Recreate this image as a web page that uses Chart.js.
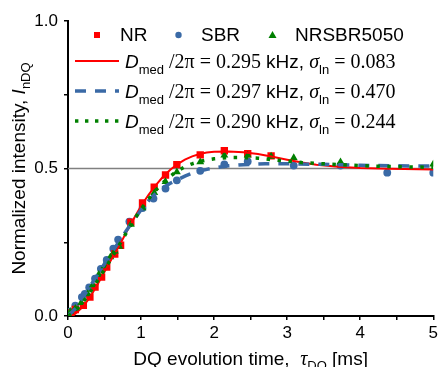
<!DOCTYPE html>
<html><head><meta charset="utf-8">
<script src="https://cdn.jsdelivr.net/npm/chart.js@4"></script>
<style>html,body{margin:0;padding:0;background:#fff;}</style>
</head><body>
<canvas id="c" width="441" height="367"></canvas>
<script>
// ---- data ----
const nrX  = [0.04, 0.10, 0.21, 0.30, 0.37, 0.46, 0.53, 0.64, 0.72, 0.86, 1.02, 1.18, 1.335, 1.49, 1.81, 2.14, 2.46, 2.78];
const nrY  = [0.010, 0.022, 0.036, 0.064, 0.098, 0.132, 0.166, 0.210, 0.240, 0.318, 0.383, 0.437, 0.478, 0.513, 0.546, 0.560, 0.550, 0.543];

const sbrX = [0.03, 0.10, 0.19, 0.23, 0.29, 0.37, 0.45, 0.53, 0.62, 0.686, 0.84, 1.02, 1.17, 1.335, 1.49, 1.81, 2.14, 2.46, 3.09, 3.73, 4.37, 5.0];
const sbrY = [0.015, 0.035, 0.064, 0.075, 0.097, 0.127, 0.160, 0.190, 0.228, 0.259, 0.320, 0.366, 0.398, 0.432, 0.460, 0.492, 0.514, 0.524, 0.510, 0.510, 0.486, 0.486];

const mixX = [0.03, 0.10, 0.18, 0.27, 0.34, 0.42, 0.50, 0.58, 0.64, 0.70, 0.86, 1.02, 1.18, 1.335, 1.49, 1.81, 2.14, 2.46, 2.78, 3.09, 3.73, 5.0];
const mixY = [0.015, 0.025, 0.045, 0.075, 0.105, 0.140, 0.170, 0.200, 0.220, 0.236, 0.310, 0.366, 0.418, 0.455, 0.488, 0.522, 0.545, 0.545, 0.541, 0.536, 0.522, 0.515];

const fitNrX  = [0.05, 0.1, 0.2, 0.3, 0.4, 0.5, 0.6, 0.7, 0.8, 0.9, 1.0, 1.1, 1.2, 1.3, 1.4, 1.5, 1.6, 1.7, 1.8, 1.9, 2.0, 2.2, 2.4, 2.6, 2.8, 3.0, 3.2, 3.4, 3.7, 4.0, 4.4, 5.0];
const fitNrY  = [0.0, 0.008, 0.030, 0.063, 0.105, 0.150, 0.195, 0.237, 0.285, 0.330, 0.373, 0.410, 0.443, 0.472, 0.496, 0.515, 0.530, 0.541, 0.549, 0.554, 0.557, 0.558, 0.555, 0.549, 0.540, 0.530, 0.520, 0.513, 0.506, 0.502, 0.499, 0.497];

const fitSbrX = [0.0, 0.1, 0.2, 0.3, 0.4, 0.5, 0.6, 0.7, 0.8, 0.9, 1.0, 1.1, 1.2, 1.3, 1.4, 1.5, 1.6, 1.7, 1.8, 1.9, 2.0, 2.2, 2.4, 2.7, 3.0, 3.5, 4.0, 4.5, 5.0];
const fitSbrY = [0.0, 0.025, 0.062, 0.100, 0.138, 0.177, 0.215, 0.253, 0.290, 0.325, 0.360, 0.390, 0.415, 0.435, 0.450, 0.462, 0.474, 0.484, 0.491, 0.497, 0.502, 0.509, 0.513, 0.516, 0.516, 0.514, 0.511, 0.509, 0.508];

const fitMixX = [0.0, 0.1, 0.2, 0.3, 0.4, 0.5, 0.6, 0.7, 0.8, 0.9, 1.0, 1.1, 1.2, 1.3, 1.4, 1.5, 1.6, 1.7, 1.8, 1.9, 2.0, 2.2, 2.4, 2.6, 2.8, 3.0, 3.2, 3.5, 3.9, 4.2, 4.5, 5.0];
const fitMixY = [0.0, 0.015, 0.045, 0.080, 0.118, 0.158, 0.198, 0.240, 0.283, 0.325, 0.362, 0.396, 0.426, 0.452, 0.474, 0.492, 0.506, 0.516, 0.524, 0.529, 0.533, 0.537, 0.537, 0.535, 0.530, 0.525, 0.520, 0.516, 0.511, 0.508, 0.506, 0.504];

const refX = [0, 5];
const refY = [0.5, 0.5];

const xTickLabels = ['0', '1', '2', '3', '4', '5'];
const yTickLabels = ['0.0', '0.5', '1.0'];
const seriesNames = ['NR', 'SBR', 'NRSBR5050'];
const fitD = ['0.295', '0.297', '0.290'];
const fitSigma = ['0.083', '0.470', '0.244'];

// ---- styles ----
const RED = '#ff0000', BLUE = '#3a6aa6', GREEN = '#008000';
const SANS = '"Liberation Sans", Arial, sans-serif';
const SERIF = '"Liberation Serif", "Times New Roman", serif';

const pts = (xs, ys) => xs.map((x, i) => ({x, y: ys[i]}));

function drawRuns(ctx, runs, x, y, align) {
  let total = 0;
  for (const r of runs) { ctx.font = r.f; r.w = ctx.measureText(r.t).width; total += r.w; }
  let cx = align === 'center' ? x - total / 2 : x;
  ctx.textAlign = 'left';
  ctx.textBaseline = 'alphabetic';
  for (const r of runs) { ctx.font = r.f; ctx.fillText(r.t, cx, y + (r.dy || 0)); cx += r.w; }
  return total;
}

const decor = {
  id: 'decor',
  afterDraw(chart) {
    const ctx = chart.ctx;
    ctx.save();
    ctx.fillStyle = '#000';
    const big = 19, sub = 13, ser = 20;
    // y-axis title
    ctx.save();
    ctx.translate(25, (chart.chartArea.top + chart.chartArea.bottom) / 2);
    ctx.rotate(-Math.PI / 2);
    drawRuns(ctx, [
      {t: 'Normalized intensity, ', f: big + 'px ' + SANS},
      {t: 'I', f: 'italic ' + big + 'px ' + SANS},
      {t: 'nDQ', f: sub + 'px ' + SANS, dy: 5}
    ], 0, 0, 'center');
    ctx.restore();
    // x-axis title
    drawRuns(ctx, [
      {t: 'DQ evolution time,  ', f: big + 'px ' + SANS},
      {t: '\u03C4', f: 'italic ' + ser + 'px ' + SERIF},
      {t: 'DQ', f: sub + 'px ' + SANS, dy: 5},
      {t: ' [ms]', f: big + 'px ' + SANS}
    ], (chart.chartArea.left + chart.chartArea.right) / 2, 365, 'center');

    // legend row 1: markers
    const yM = 35;
    ctx.fillStyle = RED;
    ctx.fillRect(94, yM - 3, 6, 6);
    ctx.fillStyle = BLUE;
    ctx.beginPath(); ctx.arc(178.5, yM, 3.2, 0, Math.PI * 2); ctx.fill();
    ctx.fillStyle = GREEN;
    ctx.beginPath(); ctx.moveTo(272.5, yM - 4); ctx.lineTo(276.5, yM + 3); ctx.lineTo(268.5, yM + 3); ctx.closePath(); ctx.fill();
    ctx.fillStyle = '#000';
    ctx.font = big + 'px ' + SANS;
    ctx.fillText(seriesNames[0], 120, 41);
    ctx.fillText(seriesNames[1], 201, 41);
    ctx.fillText(seriesNames[2], 295, 41);

    // legend rows 2-4: fit lines
    const rows = [
      {c: RED, w: 2, dash: [], y: 61},
      {c: BLUE, w: 3.5, dash: [11, 9], y: 91},
      {c: GREEN, w: 3.5, dash: [3.4, 6.6], y: 121}
    ];
    rows.forEach((r, i) => {
      ctx.save();
      ctx.strokeStyle = r.c; ctx.lineWidth = r.w; ctx.setLineDash(r.dash); ctx.lineCap = 'butt';
      ctx.beginPath(); ctx.moveTo(75, r.y); ctx.lineTo(119, r.y); ctx.stroke();
      ctx.restore();
      ctx.fillStyle = '#000';
      drawRuns(ctx, [
        {t: 'D', f: 'italic ' + big + 'px ' + SANS},
        {t: 'med', f: sub + 'px ' + SANS, dy: 6},
        {t: ' /2\u03C0 = ' + fitD[i] + ' ', f: ser + 'px ' + SERIF},
        {t: 'kHz, ', f: big + 'px ' + SANS},
        {t: '\u03C3', f: 'italic ' + ser + 'px ' + SERIF},
        {t: 'ln', f: sub + 'px ' + SANS, dy: 6},
        {t: ' = ' + fitSigma[i], f: ser + 'px ' + SERIF}
      ], 125, r.y + 6.5, 'left');
    });
    ctx.restore();
  }
};

const ctx = document.getElementById('c').getContext('2d');
new Chart(ctx, {
  type: 'scatter',
  data: {
    datasets: [
      {label: 'fitMix', data: pts(fitMixX, fitMixY), showLine: true, pointRadius: 0, borderColor: GREEN, borderWidth: 3.5, borderDash: [3.5, 7.5], order: 0},
      {label: 'fitSbr', data: pts(fitSbrX, fitSbrY), showLine: true, pointRadius: 0, borderColor: BLUE, borderWidth: 3.5, borderDash: [11, 9], order: 1},
      {label: 'fitNr', data: pts(fitNrX, fitNrY), showLine: true, pointRadius: 0, borderColor: RED, borderWidth: 2, order: 2},
      {label: seriesNames[2], data: pts(mixX, mixY), pointStyle: 'triangle', pointRadius: 4.6, backgroundColor: GREEN, borderColor: GREEN, borderWidth: 0, order: 3},
      {label: seriesNames[0], data: pts(nrX, nrY), pointStyle: 'rect', pointRadius: 5.2, backgroundColor: RED, borderColor: RED, borderWidth: 0, order: 4},
      {label: seriesNames[1], data: pts(sbrX, sbrY), pointStyle: 'circle', pointRadius: 3.9, backgroundColor: BLUE, borderColor: BLUE, borderWidth: 0, order: 5},
      {label: 'ref', data: pts(refX, refY), showLine: true, pointRadius: 0, borderColor: '#808080', borderWidth: 1.3, order: 6}
    ]
  },
  options: {
    responsive: false,
    animation: false,
    devicePixelRatio: 1,
    layout: {padding: {left: 0, right: 6, top: 21, bottom: 0}},
    plugins: {legend: {display: false}, tooltip: {enabled: false}},
    scales: {
      x: {
        type: 'linear', min: 0, max: 5,
        afterFit: s => { s.height = 51; },
        border: {display: true, color: '#000', width: 2},
        grid: {drawOnChartArea: false, drawTicks: true, tickLength: 4, color: '#000', lineWidth: 1.5},
        ticks: {
          stepSize: 0.5, autoSkip: false, maxRotation: 0, padding: 3, color: '#000',
          font: {family: SANS, size: 17},
          callback: v => { const k = Math.round(v); return Math.abs(v - k) < 1e-6 ? xTickLabels[k] : ''; }
        }
      },
      y: {
        type: 'linear', min: 0, max: 1,
        afterFit: s => { s.width = 68; },
        border: {display: true, color: '#000', width: 2},
        grid: {drawOnChartArea: false, drawTicks: true, tickLength: 4, color: '#000', lineWidth: 1.5},
        ticks: {
          stepSize: 0.25, autoSkip: false, padding: 6, color: '#000',
          font: {family: SANS, size: 17},
          callback: v => { const k = Math.round(v * 2); return Math.abs(v * 2 - k) < 1e-6 ? yTickLabels[k] : ''; }
        }
      }
    }
  },
  plugins: [decor]
});
</script>
</body></html>
